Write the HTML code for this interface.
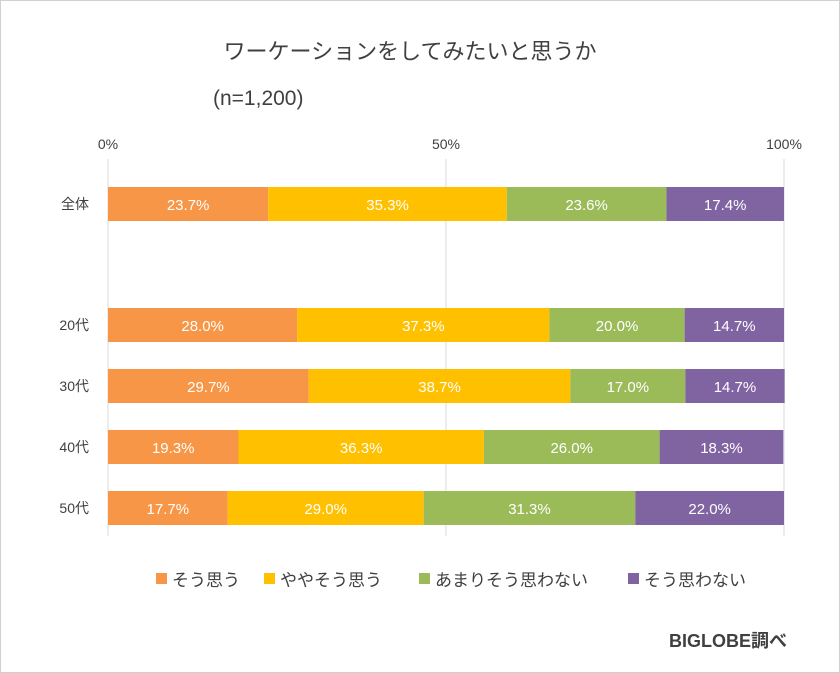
<!DOCTYPE html>
<html><head><meta charset="utf-8"><style>
body{margin:0;background:#fff;}
#wrap{position:relative;width:840px;height:673px;box-sizing:border-box;border:1px solid #d0d0d0;font-family:"Liberation Sans","Noto Sans CJK JP",sans-serif;overflow:hidden;}
svg text{font-family:"Liberation Sans","Noto Sans CJK JP",sans-serif;}
</style></head><body>
<div id="wrap">
<svg id="chart" width="840" height="673">
<text x="409" y="58" text-anchor="middle" font-size="22" fill="#404040">ワーケーションをしてみたいと思うか</text>
<text x="212" y="104" font-size="21" fill="#404040">(n=1,200)</text>
<g id="grid"></g><g id="bars"></g><g id="legend"></g>
<text x="786" y="646" text-anchor="end" font-size="18" font-weight="bold" fill="#404040">BIGLOBE調べ</text>
</svg></div>
<script>
const categories=["全体","20代","30代","40代","50代"];
const seriesNames=["そう思う","ややそう思う","あまりそう思わない","そう思わない"];
const s1=[23.7,28.0,29.7,19.3,17.7];
const s2=[35.3,37.3,38.7,36.3,29.0];
const s3=[23.6,20.0,17.0,26.0,31.3];
const s4=[17.4,14.7,14.7,18.3,22.0];
const ticks=[0,50,100];
const tickLabels=["0%","50%","100%"];
const colors=["#F79646","#FFC000","#9BBB59","#8064A2"];
const series=[s1,s2,s3,s4];
const NS="http://www.w3.org/2000/svg";
const x0=107,x1=783;
const xs=v=>x0+(x1-x0)*v/100;
const rowY=[186,307,368,429,490];const bh=34;
function mk(t,a,p){const e=document.createElementNS(NS,t);for(const k in a)e.setAttribute(k,a[k]);p.appendChild(e);return e;}
const grid=document.getElementById('grid');
ticks.forEach((t,i)=>{
 const l=mk('line',{x1:xs(t),x2:xs(t),y1:158,y2:535,stroke:'#d9d9d9','stroke-width':1},grid);
 
 
 const tx=mk('text',{x:xs(t),y:148,'text-anchor':'middle','font-size':14,fill:'#404040'},grid);
 tx.textContent=tickLabels[i];
 
 
});
const bars=document.getElementById('bars');
categories.forEach((c,r)=>{
 const y=rowY[r];
 const cl=mk('text',{x:88,y:y+bh/2+5,'text-anchor':'end','font-size':14,fill:'#404040'},bars);
 cl.textContent=c;
 
 
 let acc=0;
 series.forEach((s,k)=>{
  const v=s[r];
  const rect=mk('rect',{x:xs(acc),y:y,width:xs(acc+v)-xs(acc),height:bh,fill:colors[k]},bars);
  
  
  const t=mk('text',{x:(xs(acc)+xs(acc+v))/2,y:y+bh/2+6,'text-anchor':'middle','font-size':15,fill:'#fff'},bars);
  t.textContent=v.toFixed(1)+'%';
  
  
  acc+=v;
 });
});
const lg=document.getElementById('legend');
const lx=[155,263,418,627];
seriesNames.forEach((n,k)=>{
 const r=mk('rect',{x:lx[k],y:572,width:11,height:11,fill:colors[k]},lg);
 
 
 const t=mk('text',{x:lx[k]+16,y:585,'font-size':17,fill:'#404040'},lg);
 t.textContent=n;
 
 
});
</script>
</body></html>
